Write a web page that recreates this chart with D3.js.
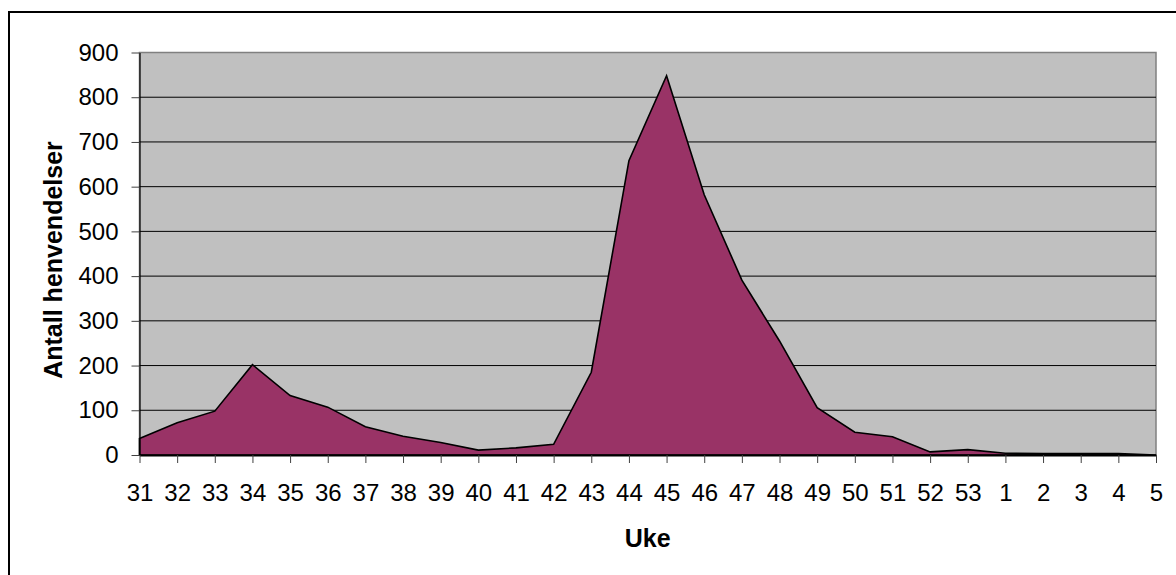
<!DOCTYPE html>
<html>
<head>
<meta charset="utf-8">
<script src="https://cdn.jsdelivr.net/npm/d3@7"></script>
<style>
    body { margin: 0; background: #fff; }
    svg { display: block; }
    text { font-family: Arial, "Liberation Sans", sans-serif; fill: #000; }
</style>
</head>
<body>
<svg id="chart" width="1176" height="575"></svg>
<script>
// week numbers along the x axis (year wraps after 53)
const weeks = ["31", "32", "33", "34", "35", "36", "37", "38", "39", "40", "41", "42", "43", "44",
    "45", "46", "47", "48", "49", "50", "51", "52", "53", "1", "2", "3", "4", "5"];
// number of enquiries per week
const counts = [37, 72, 98, 202, 133, 107, 63, 42, 28, 11, 16, 24, 185, 658,
    848, 582, 391, 255, 106, 51, 41, 7, 12, 4, 3, 3, 3, 0];
const yTicks = [0, 100, 200, 300, 400, 500, 600, 700, 800, 900];

const plot = {left: 139.5, right: 1156, top: 52.5, bottom: 455};

const svg = d3.select("#chart");

// outer chart frame (runs off the bottom/right of the picture)
svg.append("rect")
    .attr("x", 9)
    .attr("y", 12)
    .attr("width", 1300)
    .attr("height", 700)
    .attr("fill", "#fff")
    .attr("stroke", "#000")
    .attr("stroke-width", 2);

let x = d3.scalePoint().domain(weeks).range([plot.left, plot.right]);
let y = d3.scaleLinear().domain([0, 900]).range([plot.bottom, plot.top]);

// plot background
svg.append("rect")
    .attr("x", plot.left)
    .attr("y", plot.top)
    .attr("width", plot.right - plot.left)
    .attr("height", plot.bottom - plot.top)
    .attr("fill", "#c0c0c0")
    .attr("stroke", "#808080")
    .attr("stroke-width", 1.5);

// gridlines
svg.append("g")
    .selectAll("line")
    .data(yTicks.filter(d => d > 0 && d < 900))
    .enter()
    .append("line")
    .attr("x1", plot.left)
    .attr("x2", plot.right)
    .attr("y1", d => y(d))
    .attr("y2", d => y(d))
    .attr("stroke", "#000")
    .attr("stroke-width", 1);

// the area
let area = d3.area()
    .x((d, i) => x(weeks[i]))
    .y0(y(0))
    .y1(d => y(d));

svg.append("path")
    .datum(counts)
    .attr("d", area)
    .attr("fill", "#993366")
    .attr("stroke", "#000")
    .attr("stroke-width", 1.6)
    .attr("stroke-linejoin", "miter");

// y axis
let yAxis = d3.axisLeft(y).tickValues(yTicks).tickSize(8).tickPadding(13).tickSizeOuter(0);
let yG = svg.append("g")
    .attr("transform", "translate(" + plot.left + ",0)")
    .call(yAxis);
yG.select(".domain").attr("stroke", "#000").attr("stroke-width", 1.2);
yG.selectAll(".tick line").attr("stroke", "#404040");
yG.selectAll("text")
    .attr("font-size", "24px")
    .attr("font-family", "Arial, 'Liberation Sans', sans-serif")
    .attr("fill", "#000");

// x axis
let xAxis = d3.axisBottom(x).tickSize(8).tickPadding(21).tickSizeOuter(0);
let xG = svg.append("g")
    .attr("transform", "translate(0," + plot.bottom + ")")
    .call(xAxis);
xG.select(".domain").attr("stroke", "#000").attr("stroke-width", 2);
xG.selectAll(".tick line").attr("stroke", "#404040");
xG.selectAll("text")
    .attr("font-size", "24px")
    .attr("font-family", "Arial, 'Liberation Sans', sans-serif")
    .attr("fill", "#000");

// axis titles
svg.append("text")
    .attr("x", (plot.left + plot.right) / 2)
    .attr("y", 547)
    .attr("text-anchor", "middle")
    .attr("font-size", "25px")
    .attr("font-weight", "bold")
    .text("Uke");

svg.append("text")
    .attr("transform", "translate(62,260) rotate(-90)")
    .attr("text-anchor", "middle")
    .attr("font-size", "25px")
    .attr("font-weight", "bold")
    .text("Antall henvendelser");
</script>
</body>
</html>
